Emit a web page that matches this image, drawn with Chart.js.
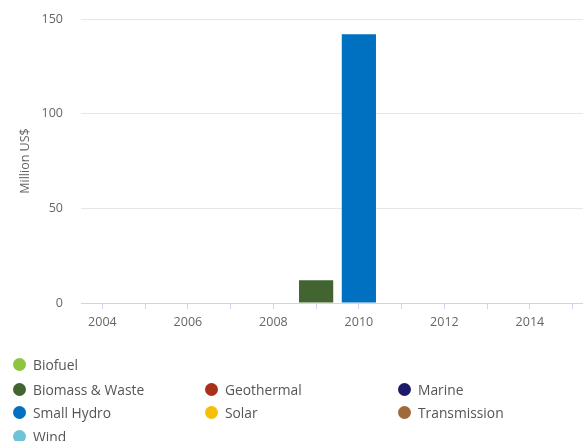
<!DOCTYPE html>
<html>
<head>
<meta charset="utf-8">
<script src="https://cdn.jsdelivr.net/npm/chart.js@4"></script>
<style>
  html, body { margin: 0; padding: 0; background: #fff; overflow: hidden; width: 583px; height: 441px; }
  #wrap { position: absolute; left: 0; top: 0; width: 594px; height: 335px; }
  #legend { position: absolute; left: 0; top: 0; width: 583px; height: 441px; pointer-events: none;
            font-family: "Open Sans", "Noto Sans", sans-serif; font-size: 13.8px; color: #555; }
  .item { position: absolute; white-space: nowrap; line-height: 18px; }
  .dot { position: absolute; width: 13px; height: 13px; border-radius: 50%; left: -20px; top: 2px; }
</style>
</head>
<body>
<div id="wrap"><canvas id="chart"></canvas></div>
<div id="legend"></div>
<script>
// ── Data ──────────────────────────────────────────────────────
const years        = ['2004','2005','2006','2007','2008','2009','2010','2011','2012','2013','2014','2015'];
const yTicks       = [0, 50, 100, 150];

const biofuel      = [0, 0, 0, 0, 0, 0, 0, 0, 0, 0, 0, 0];
const biomassWaste = [0, 0, 0, 0, 0, 12, 0, 0, 0, 0, 0, 0];
const geothermal   = [0, 0, 0, 0, 0, 0, 0, 0, 0, 0, 0, 0];
const marine       = [0, 0, 0, 0, 0, 0, 0, 0, 0, 0, 0, 0];
const smallHydro   = [0, 0, 0, 0, 0, 0, 142, 0, 0, 0, 0, 0];
const solar        = [0, 0, 0, 0, 0, 0, 0, 0, 0, 0, 0, 0];
const transmission = [0, 0, 0, 0, 0, 0, 0, 0, 0, 0, 0, 0];
const wind         = [0, 0, 0, 0, 0, 0, 0, 0, 0, 0, 0, 0];

const seriesNames  = ['Biofuel', 'Biomass & Waste', 'Geothermal', 'Marine', 'Small Hydro', 'Solar', 'Transmission', 'Wind'];
const seriesData   = [biofuel, biomassWaste, geothermal, marine, smallHydro, solar, transmission, wind];
const seriesColors = ['#8cc63f', '#426430', '#a9301a', '#1b1a6b', '#0070c0', '#f6c000', '#a0693c', '#6ec3d9'];

const FONT = '"Open Sans", "Noto Sans", sans-serif';

// ── Chart ─────────────────────────────────────────────────────
const datasets = seriesNames.map((name, i) => ({
  label: name,
  data: seriesData[i],
  backgroundColor: seriesColors[i],
  borderWidth: 0,
  categoryPercentage: 1,
  barPercentage: 0.8,
}));

new Chart(document.getElementById('chart'), {
  type: 'bar',
  data: { labels: years, datasets },
  options: {
    responsive: true,
    maintainAspectRatio: false,
    animation: false,
    layout: { padding: { top: 19, right: 0, left: 0, bottom: 0 } },
    plugins: { legend: { display: false }, tooltip: { enabled: false } },
    scales: {
      x: {
        stacked: true,
        offset: true,
        afterFit: (s) => { s.height = 32; },
        grid: { drawOnChartArea: false, offset: false, tickLength: 6, color: '#ccd6eb' },
        border: { color: '#ccd6eb', width: 1 },
        ticks: {
          autoSkip: false,
          maxRotation: 0,
          padding: 6,
          color: '#666',
          font: { family: FONT, size: 12.5 },
          callback: (v, i) => (i % 2 === 0 ? years[i] : ''),
        },
      },
      y: {
        stacked: true,
        min: 0,
        max: 150,
        // fixed axis width; drop the tick-padding the scale adds above/below the plot
        afterFit: (s) => { s.width = 81; s.paddingTop = 0; s.paddingBottom = 0; },
        afterBuildTicks: (s) => { s.ticks = yTicks.map(v => ({ value: v })); },
        grid: {
          drawTicks: false,
          color: (c) => (c.tick && c.tick.value === 0 ? 'rgba(0,0,0,0)' : '#e6e6e6'),
        },
        border: { display: false },
        ticks: { padding: 18, color: '#666', font: { family: FONT, size: 12.5 } },
        title: {
          display: true,
          text: 'Million US$',
          color: '#666',
          font: { family: FONT, size: 12.5 },
          padding: { top: 18, bottom: 0 },
        },
      },
    },
  },
});

// ── Legend (HTML, built from the series arrays) ───────────────
const legend = document.getElementById('legend');
const colX = [33, 225, 418];
const rowY = [356, 381, 404, 428];
seriesNames.forEach((name, i) => {
  // first row holds Biofuel alone, the rest flow in three columns
  const slot = i === 0 ? 0 : i + 2;
  const row = Math.floor(slot / 3);
  const col = slot % 3;
  const item = document.createElement('div');
  item.className = 'item';
  item.style.left = colX[col] + 'px';
  item.style.top = rowY[row] + 'px';
  item.innerHTML = `<span class="dot" style="background:${seriesColors[i]}"></span>${name}`;
  legend.appendChild(item);
});
</script>
</body>
</html>
